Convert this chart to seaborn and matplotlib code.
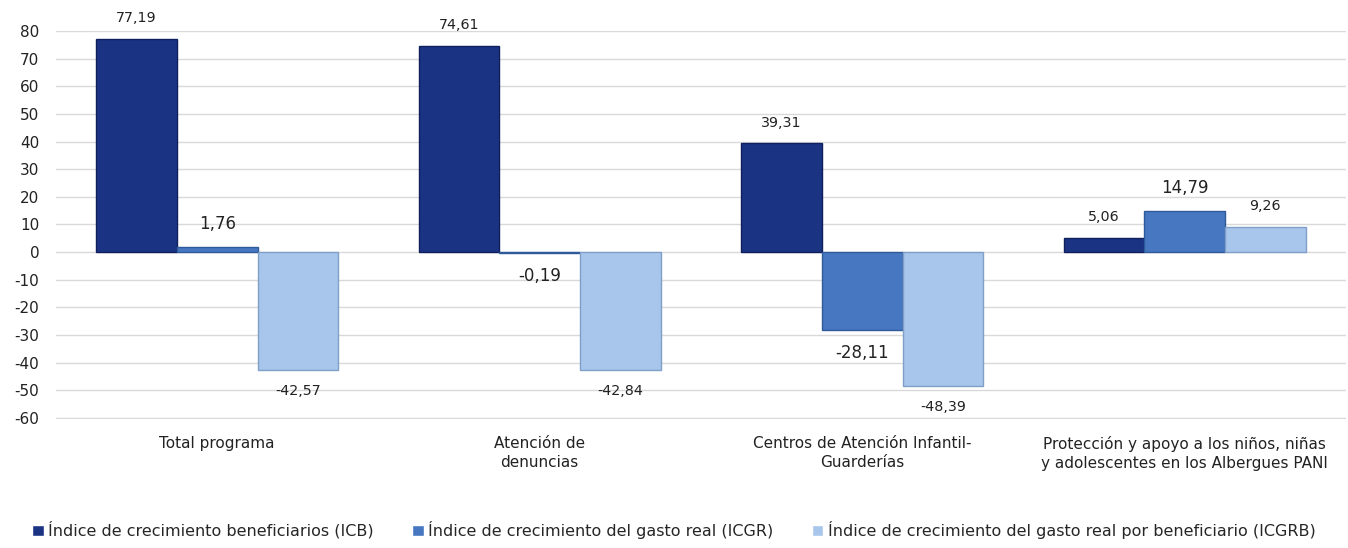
import matplotlib
matplotlib.use("Agg")
import matplotlib.pyplot as plt
import pandas as pd
import seaborn as sns

categorias = [
    "Total programa",
    "Atención de\ndenuncias",
    "Centros de Atención Infantil-\nGuarderías",
    "Protección y apoyo a los niños, niñas\ny adolescentes en los Albergues PANI",
]
series = [
    "Índice de crecimiento beneficiarios (ICB)",
    "Índice de crecimiento del gasto real (ICGR)",
    "Índice de crecimiento del gasto real por beneficiario (ICGRB)",
]
icb = [77.19, 74.61, 39.31, 5.06]
icgr = [1.76, -0.19, -28.11, 14.79]
icgrb = [-42.57, -42.84, -48.39, 9.26]
colores = ["#1B3383", "#4677C0", "#A8C6EC"]
bordes = ["#0F1F5C", "#2F5A9A", "#7F9FC8"]

sns.set_theme(style="white")
plt.rcParams["font.family"] = ["DejaVu Sans"]
plt.rcParams["axes.unicode_minus"] = False

filas = []
for s, vals in zip(series, [icb, icgr, icgrb]):
    for c, v in zip(categorias, vals):
        filas.append({"cat": c, "serie": s, "val": v})
df = pd.DataFrame(filas)

fig = plt.figure(figsize=(13.48, 5.48), dpi=100)
ax = fig.add_axes([0.0415, 0.2354, 0.957, 0.708])

sns.barplot(data=df, x="cat", y="val", hue="serie", palette=colores,
            saturation=1, width=0.75, gap=0, ax=ax, zorder=3, legend=True)

for i, cont in enumerate(ax.containers):
    for b in cont:
        b.set_edgecolor(bordes[i])
        b.set_linewidth(1.0)
    size = 12 if i == 1 else 10.3
    labels = [f"{v:.2f}".replace(".", ",") for v in cont.datavalues]
    ax.bar_label(cont, labels=labels, padding=10, fontsize=size, color="#222222")

ax.set_ylim(-60.4, 80)
ax.set_yticks(range(-60, 81, 10))
ax.yaxis.grid(True, color="#D9D9D9", linewidth=1.0, zorder=0)
ax.set_axisbelow(True)
for sp in ax.spines.values():
    sp.set_visible(False)
ax.set_xlabel("")
ax.set_ylabel("")
ax.tick_params(axis="y", labelsize=11, length=0, pad=12, colors="#222222")
ax.tick_params(axis="x", labelsize=11, length=0, pad=12, colors="#222222")
for t in ax.get_xticklabels():
    t.set_linespacing(1.4)
ax.set_xlim(-0.5, 3.5)

handles, labs = ax.get_legend_handles_labels()
ax.get_legend().remove()
fig.legend(handles, labs, loc="center", bbox_to_anchor=(0.5, 0.033), ncol=3,
           frameon=False, fontsize=11.5, handlelength=0.7, handleheight=0.7,
           handletextpad=0.3, columnspacing=2.4)

fig.savefig("out.png", dpi=100)
